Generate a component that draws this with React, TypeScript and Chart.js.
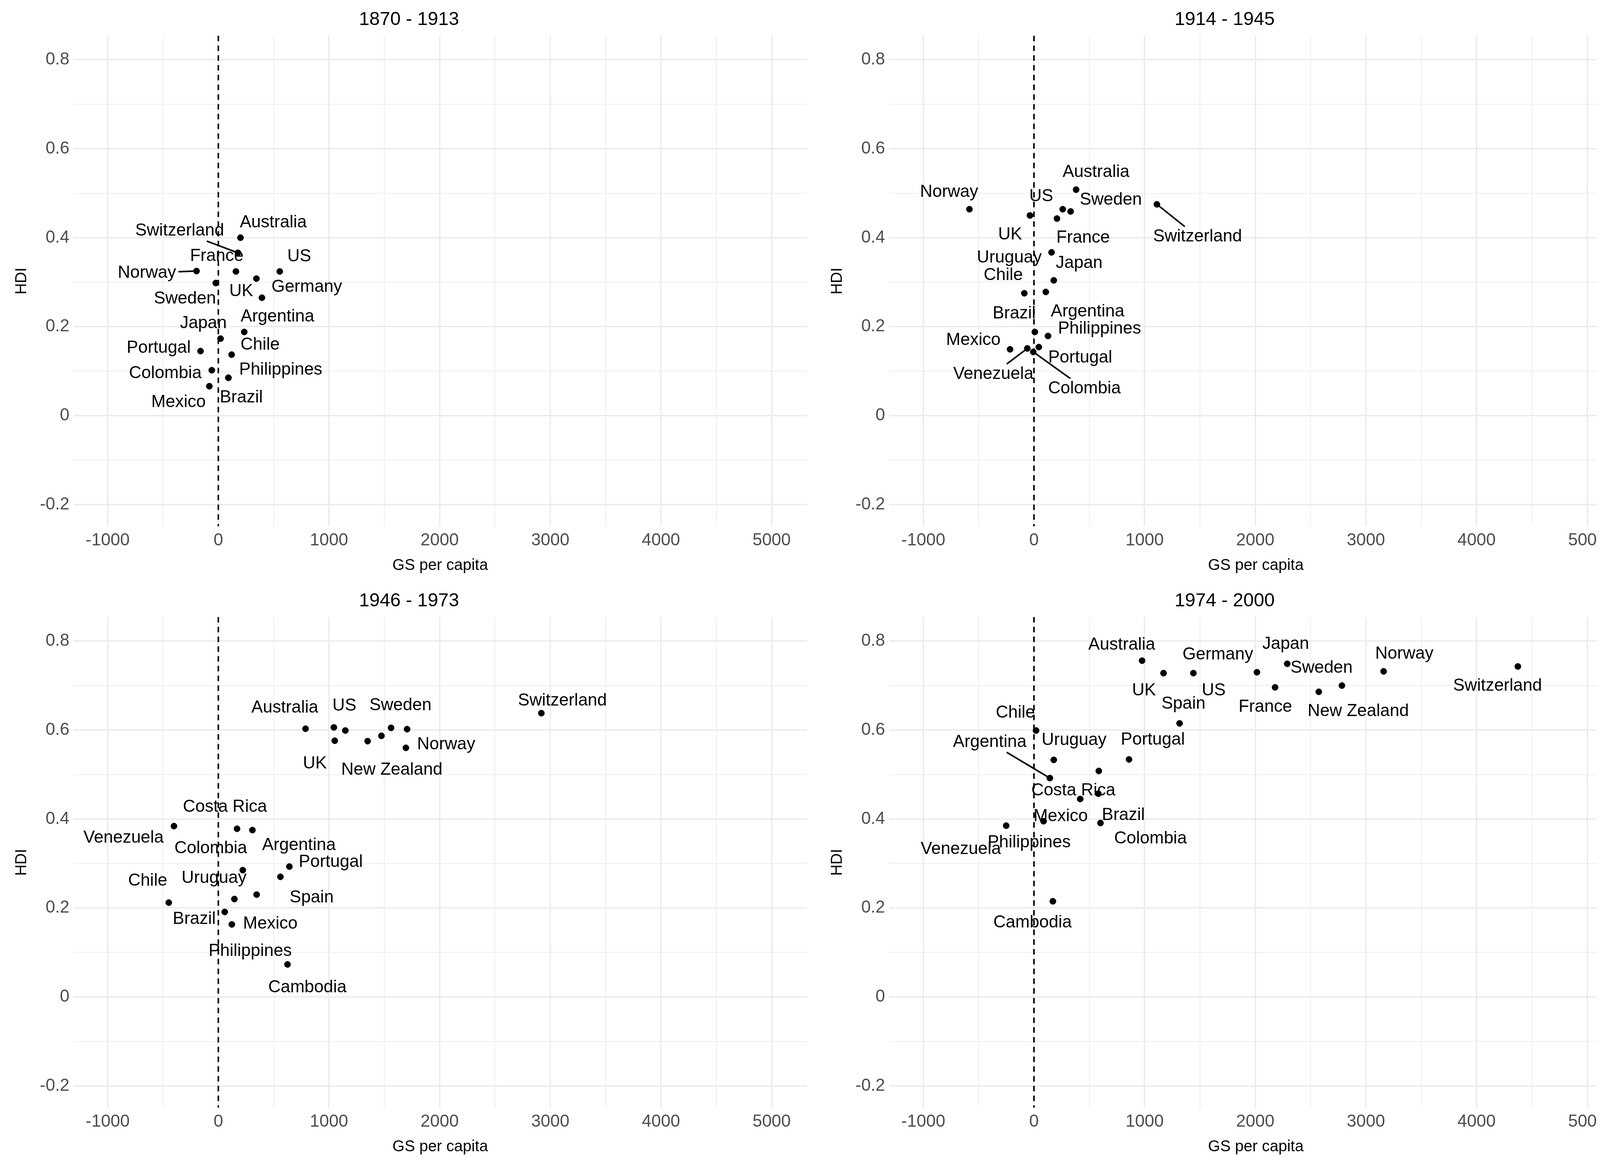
import React, { useEffect, useRef } from "react";
import { Chart, registerables } from "chart.js";
Chart.register(...registerables);

const titles = ["1870 - 1913", "1914 - 1945", "1946 - 1973", "1974 - 2000"];

const names1 = ["Australia","Switzerland","France","US","Norway","Sweden","Germany","UK","Argentina","Japan","Portugal","Chile","Colombia","Philippines","Brazil","Mexico"];
const gs1 = [200,177,159,555,-197,-23,344,394,234,20,-161,120,-59,91,91,-81];
const hdi1 = [0.4,0.366,0.324,0.324,0.325,0.298,0.308,0.265,0.188,0.173,0.145,0.137,0.102,0.085,0.085,0.066];

const names2 = ["Australia","Norway","US","Sweden","UK","France","Switzerland","Uruguay","Japan","Chile","Argentina","Brazil","Philippines","Mexico","Venezuela","Portugal","Colombia"];
const gs2 = [381,-583,260,331,-36,208,1111,159,179,-87,107,8,127,-216,-60,44,-6];
const hdi2 = [0.508,0.464,0.464,0.459,0.45,0.443,0.475,0.367,0.304,0.275,0.278,0.188,0.179,0.149,0.151,0.154,0.143];

const names3 = ["Switzerland","Australia","US","Sweden","Norway","UK","New Zealand","","","","Costa Rica","Venezuela","Argentina","Colombia","Portugal","Spain","Uruguay","Mexico","Chile","Brazil","Philippines","Cambodia"];
const gs3 = [2919,788,1044,1561,1706,1052,1695,1148,1349,1474,169,-401,308,221,642,561,145,346,-448,58,122,625];
const hdi3 = [0.638,0.603,0.606,0.605,0.602,0.576,0.56,0.599,0.575,0.587,0.378,0.384,0.375,0.285,0.293,0.27,0.22,0.23,0.212,0.191,0.163,0.073];

const names4 = ["Australia","UK","US","Germany","Japan","France","New Zealand","Sweden","Norway","Switzerland","Spain","Chile","Uruguay","Portugal","Argentina","Costa Rica","Brazil","Mexico","Philippines","Colombia","Venezuela","Cambodia"];
const gs4 = [977,1171,1441,2015,2289,2179,2574,2783,3160,4373,1316,19,179,859,144,586,582,418,87,601,-251,171];
const hdi4 = [0.756,0.728,0.728,0.73,0.749,0.696,0.686,0.7,0.732,0.743,0.615,0.599,0.533,0.534,0.492,0.508,0.457,0.445,0.395,0.391,0.385,0.215];

// label placement offsets (pixels) and leader-segment flags
const nudge1 = [[84,-39,0],[-149,-56,1],[-49,-39,0],[50,-38,0],[-127,5,1],[-79,40,0],[129,22,0],[-53,-16,0],[85,-39,0],[-44,-39,0],[-107,-8,0],[73,-25,0],[-119,8,0],[134,-20,0],[33,51,0],[-79,41,0]];
const nudge2 = [[51,-45,0],[-52,-44,0],[-55,-33,0],[103,-29,0],[-51,49,0],[67,49,0],[104,83,1],[-108,14,0],[65,-44,0],[-54,-46,0],[107,51,0],[-53,-47,0],[132,-18,0],[-94,-23,0],[-87,66,1],[106,27,0],[131,94,1]];
const nudge3 = [[54,-32,0],[-53,-53,0],[27,-55,0],[24,-57,0],[100,39,0],[-51,59,0],[-36,57,0],[0,0,0],[0,0,0],[0,0,0],[-31,-56,0],[-129,30,0],[119,39,0],[-82,-55,0],[106,-11,0],[80,53,0],[-52,-53,0],[35,75,0],[-54,-56,0],[-78,19,0],[47,69,0],[51,59,0]];
const nudge4 = [[-52,-40,0],[-50,45,0],[52,45,0],[-100,-45,0],[-4,-50,0],[-25,50,0],[101,50,0],[-52,-45,0],[53,-45,0],[-52,50,0],[10,-50,0],[-53,-45,0],[52,-50,0],[61,-50,0],[-154,-92,1],[-65,50,0],[64,55,0],[-50,45,0],[-37,55,0],[128,40,0],[-116,60,0],[-52,55,0]];

const panels = [
  { names: names1, gs: gs1, hdi: hdi1, nudge: nudge1 },
  { names: names2, gs: gs2, hdi: hdi2, nudge: nudge2 },
  { names: names3, gs: gs3, hdi: hdi3, nudge: nudge3 },
  { names: names4, gs: gs4, hdi: hdi4, nudge: nudge4 },
];

const FONT = "'Liberation Sans', Arial, sans-serif";

const labelPlugin = {
  id: "labels",
  afterDatasetsDraw(chart: any) {
    const { ctx, chartArea } = chart;
    const xs = chart.scales.x;
    ctx.save();
    const x0 = xs.getPixelForValue(0);
    ctx.strokeStyle = "#000";
    ctx.lineWidth = 4;
    ctx.setLineDash([14, 11]);
    ctx.beginPath();
    ctx.moveTo(x0, chartArea.top);
    ctx.lineTo(x0, chartArea.bottom);
    ctx.stroke();
    ctx.setLineDash([]);
    const opts = chart.options.plugins.labels;
    const meta = chart.getDatasetMeta(0);
    ctx.font = `44px ${FONT}`;
    ctx.fillStyle = "#000";
    ctx.textAlign = "center";
    ctx.textBaseline = "middle";
    meta.data.forEach((pt: any, i: number) => {
      const name = opts.names[i];
      if (!name) return;
      const [dx, dy, seg] = opts.nudge[i];
      const lx = pt.x + dx, ly = pt.y + dy;
      if (seg) {
        const w = ctx.measureText(name).width / 2 + 6;
        const h = 26;
        const t = Math.min(w / Math.max(Math.abs(dx), 1e-6), h / Math.max(Math.abs(dy), 1e-6), 1);
        ctx.lineWidth = 4;
        ctx.beginPath();
        ctx.moveTo(lx - dx * t, ly - dy * t);
        ctx.lineTo(pt.x, pt.y);
        ctx.stroke();
      }
      ctx.fillText(name, lx, ly);
    });
    ctx.restore();
  },
};

function Panel({ idx }: { idx: number }) {
  const ref = useRef<HTMLCanvasElement>(null);
  useEffect(() => {
    const p = panels[idx];
    const gridW = (ctx: any) => (ctx.tick && Math.abs(ctx.tick.value % 1000) < 1e-6 ? 3.5 : 1.8);
    const gridWY = (ctx: any) => {
      const v = Math.round((ctx.tick?.value ?? 0) * 10);
      return v % 2 === 0 ? 3.5 : 1.8;
    };
    const chart = new Chart(ref.current!, {
      type: "scatter",
      data: {
        datasets: [{
          data: p.gs.map((g, i) => ({ x: g, y: p.hdi[i] })),
          backgroundColor: "#000",
          borderColor: "#000",
          pointRadius: 8,
          pointHoverRadius: 8,
        }],
      },
      plugins: [labelPlugin],
      options: {
        animation: false,
        responsive: false,
        devicePixelRatio: 1,
        layout: { padding: { left: 20, right: 30, top: 10, bottom: 20 } },
        plugins: {
          legend: { display: false },
          tooltip: { enabled: false },
          title: { display: true, text: titles[idx], color: "#000", font: { family: FONT, size: 48, weight: "normal" }, padding: { top: 4, bottom: 12 } },
          labels: { names: p.names, nudge: p.nudge },
        } as any,
        scales: {
          x: {
            type: "linear", min: -1310, max: 5320,
            afterBuildTicks: (s: any) => { const t = []; for (let v = -1000; v <= 5000; v += 500) t.push({ value: v }); s.ticks = t; },
            ticks: { callback: (v: any) => (v % 1000 === 0 ? String(v) : ""), color: "#4d4d4d", font: { family: FONT, size: 44 }, maxRotation: 0, autoSkip: false, padding: 10 },
            grid: { color: "#ebebeb", lineWidth: gridW, drawTicks: false },
            border: { display: false },
            title: { display: true, text: "GS per capita", color: "#000", font: { family: FONT, size: 40 }, padding: { top: 4 } },
          },
          y: {
            type: "linear", min: -0.249, max: 0.854,
            afterBuildTicks: (s: any) => { const t = []; for (let v = -2; v <= 8; v++) t.push({ value: v / 10 }); s.ticks = t; },
            ticks: { callback: (v: any) => { const k = Math.round(v * 10); return k % 2 === 0 ? (k === 0 ? "0" : (k / 10).toFixed(1)) : ""; }, color: "#4d4d4d", font: { family: FONT, size: 44 }, autoSkip: false, padding: 10 },
            grid: { color: "#ebebeb", lineWidth: gridWY, drawTicks: false },
            border: { display: false },
            title: { display: true, text: "HDI", color: "#000", font: { family: FONT, size: 40 }, padding: { bottom: 12 } },
          },
        },
      } as any,
    });
    return () => chart.destroy();
  }, [idx]);
  return <canvas ref={ref} width={2088} height={1488} style={{ display: "block" }} />;
}

export default function App() {
  return (
    <div style={{ display: "grid", gridTemplateColumns: "2088px 2088px", gridTemplateRows: "1488px 1488px", background: "#fff", overflow: "hidden" }}>
      {[0, 1, 2, 3].map((i) => <Panel key={i} idx={i} />)}
    </div>
  );
}
